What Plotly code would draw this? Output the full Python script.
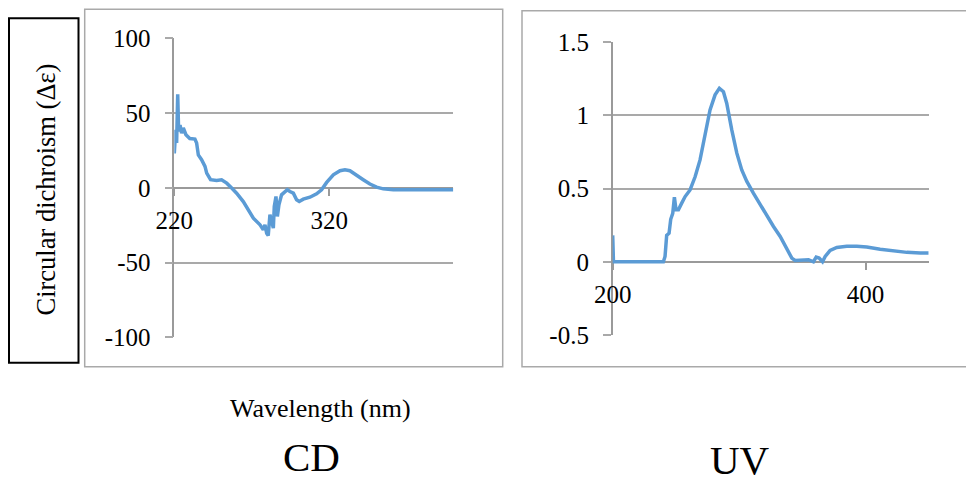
import plotly.graph_objects as go

# ---------------- data ----------------
cd_wavelength = [220, 220.9, 221.5, 222.2, 222.8, 223.7, 224.7, 225.8, 227.5, 230, 233.3, 234.4,
                 235.5, 237.6, 239.8, 240.9, 243.4, 247.3, 250.5, 253.8, 257, 260.2, 264.5, 267.7,
                 271, 275.3, 277.4, 278.5, 279.6, 280.6, 281.7, 282.8, 283.9, 284.5, 285.6, 286.5,
                 287.5, 289.2, 291.4, 292.9, 294.6, 296.8, 298.9, 300.6, 303.2, 307.5, 311.8, 315,
                 318.3, 322.6, 326.9, 330.1, 333.3, 337.6, 341.9, 346.2, 350.5, 354.8, 361.3, 374.2,
                 387.1, 400]
cd_delta_eps = [23, 38.8, 30, 62.5, 37.7, 42, 36.6, 40, 35.5, 33, 32.6, 30,
                22, 18.8, 14.3, 9.8, 5.4, 4.9, 5.4, 3.1, -0.2, -3.6, -9.2, -14.7,
                -20.3, -24.8, -28, -24.8, -30.4, -32, -18, -22.5, -27, -12.5, -5.8, -19.2,
                -11.4, -4.7, -3.1, -1.3, -2.5, -3.6, -8, -9.2, -7.6, -6.3, -4, -1.3,
                3.6, 8.7, 11.4, 12, 11.4, 8.7, 5.4, 2.5, 0.4, -0.7, -1.3, -1.3,
                -1.3, -1.3]

uv_wavelength = [200, 200.6, 220, 240.1, 241.4, 242.7, 244.6, 245.9, 247.5, 248.8, 250.1, 252,
                 254.6, 257.3, 261.2, 265.2, 269.1, 273.1, 277, 281, 284.4, 287.6, 290.2, 294.2,
                 298.2, 302.1, 306.1, 311.3, 316.6, 321.9, 327.2, 332.5, 337.7, 341.7, 344.3, 349.6,
                 354.9, 358.8, 361, 363.3, 366, 368.1, 372, 377.3, 385.2, 393.1, 401, 411.6,
                 422.2, 432.7, 443.3, 450]
uv_absorbance = [0.18, 0, 0, 0, 0.036, 0.18, 0.195, 0.29, 0.33, 0.44, 0.355, 0.355,
                 0.4, 0.445, 0.49, 0.58, 0.695, 0.855, 1.036, 1.139, 1.184, 1.161, 1.082, 0.9,
                 0.741, 0.627, 0.548, 0.468, 0.389, 0.309, 0.241, 0.173, 0.082, 0.025, 0.009, 0.014,
                 0.014, 0, 0.032, 0.025, 0, 0.036, 0.077, 0.098, 0.105, 0.105, 0.1, 0.086,
                 0.073, 0.064, 0.059, 0.059]

cd_y_ticks = [100, 50, 0, -50, -100]
cd_y_ticktext = ["100", "50", "0", "-50", "-100"]
cd_x_ticks = [220, 320]
cd_x_ticktext = ["220", "320"]
uv_y_ticks = [1.5, 1, 0.5, 0, -0.5]
uv_y_ticktext = ["1.5", "1", "0.5", "0", "-0.5"]
uv_x_ticks = [200, 400]
uv_x_ticktext = ["200", "400"]

cd_x_range = [220, 400]
cd_y_range = [-100, 100]
uv_x_range = [200, 450]
uv_y_range = [-0.5, 1.5]

# ---------------- layout helpers ----------------
# the page body adds an 8px margin; lay the figure out in window pixels minus that offset
OFF = 8
W, H = 974 - OFF, 479 - OFF
def px(p):
    return (p - OFF) / W
def py(p):
    return 1 - (p - OFF) / H

def zero_pos(dom, rng):
    return dom[0] + (0 - rng[0]) / (rng[1] - rng[0]) * (dom[1] - dom[0])

LINE = "#5B9BD5"
GRID = "#A9A9A9"
AXIS = "#9A9A9A"
FONT = "Liberation Serif"

cd_dom_x = [px(174.3), px(453.3)]
cd_dom_y = [py(337.3), py(38.3)]
uv_dom_x = [px(612.7), px(928.7)]
uv_dom_y = [py(335), py(42)]

fig = go.Figure()
fig.add_trace(go.Scatter(x=cd_wavelength, y=cd_delta_eps, mode="lines",
                         line=dict(color=LINE, width=3.5), xaxis="x", yaxis="y",
                         showlegend=False, hoverinfo="skip"))
fig.add_trace(go.Scatter(x=uv_wavelength, y=uv_absorbance, mode="lines",
                         line=dict(color=LINE, width=3.5), xaxis="x2", yaxis="y2",
                         showlegend=False, hoverinfo="skip"))

tickfont = dict(family=FONT, size=25, color="black")

def xaxis(dom, rng, ydom, yrng, tv, tt):
    return dict(domain=dom, range=rng, anchor="free", position=zero_pos(ydom, yrng),
                showline=True, linecolor=AXIS, linewidth=1.5, showgrid=False, zeroline=False,
                ticks="outside", ticklen=7, tickwidth=1.5, tickcolor=AXIS,
                tickvals=tv, ticktext=tt, tickfont=tickfont, ticklabelstandoff=3,
                layer="below traces", fixedrange=True, automargin=False)

def yaxis(dom, rng, anchor, tv, tt):
    return dict(domain=dom, range=rng, anchor=anchor, showline=True, linecolor=AXIS,
                linewidth=1.5, showgrid=True, gridcolor=GRID, gridwidth=1.5, zeroline=False,
                ticks="outside", ticklen=8, tickwidth=1.5, tickcolor=GRID,
                tickvals=tv, ticktext=tt, tickfont=tickfont, ticklabelstandoff=9,
                layer="below traces", fixedrange=True, automargin=False)

fig.update_layout(
    width=W, height=H, margin=dict(l=0, r=0, t=0, b=0, pad=0, autoexpand=False),
    paper_bgcolor="white", plot_bgcolor="white", showlegend=False,
    xaxis=xaxis(cd_dom_x, cd_x_range, cd_dom_y, cd_y_range, cd_x_ticks, cd_x_ticktext),
    yaxis=yaxis(cd_dom_y, cd_y_range, "x", cd_y_ticks, cd_y_ticktext),
    xaxis2=xaxis(uv_dom_x, uv_x_range, uv_dom_y, uv_y_range, uv_x_ticks, uv_x_ticktext),
    yaxis2=yaxis(uv_dom_y, uv_y_range, "x2", uv_y_ticks, uv_y_ticktext),
    shapes=[
        dict(type="rect", xref="paper", yref="paper", x0=px(84.7), x1=px(502.7),
             y0=py(366.7), y1=py(9.3), line=dict(color=GRID, width=1.5), layer="below"),
        dict(type="rect", xref="paper", yref="paper", x0=px(522), x1=px(990),
             y0=py(366.7), y1=py(10.7), line=dict(color=GRID, width=1.5), layer="below"),
        dict(type="rect", xref="paper", yref="paper", x0=px(9), x1=px(78.5),
             y0=py(362.7), y1=py(18.3), line=dict(color="black", width=2), layer="below"),
    ],
    annotations=[
        dict(text="Circular dichroism (Δε)", xref="paper", yref="paper", x=px(45), y=py(189.5),
             textangle=-90, showarrow=False, xanchor="center", yanchor="middle",
             font=dict(family=FONT, size=26.5, color="black")),
        dict(text="Wavelength (nm)", xref="paper", yref="paper", x=px(320.5), y=py(408),
             showarrow=False, xanchor="center", yanchor="middle",
             font=dict(family=FONT, size=26, color="black")),
        dict(text="CD", xref="paper", yref="paper", x=px(311.5), y=py(457),
             showarrow=False, xanchor="center", yanchor="middle",
             font=dict(family=FONT, size=41, color="black")),
        dict(text="UV", xref="paper", yref="paper", x=px(740), y=py(460),
             showarrow=False, xanchor="center", yanchor="middle",
             font=dict(family=FONT, size=41, color="black")),
    ],
)

fig.write_html("out.html")
